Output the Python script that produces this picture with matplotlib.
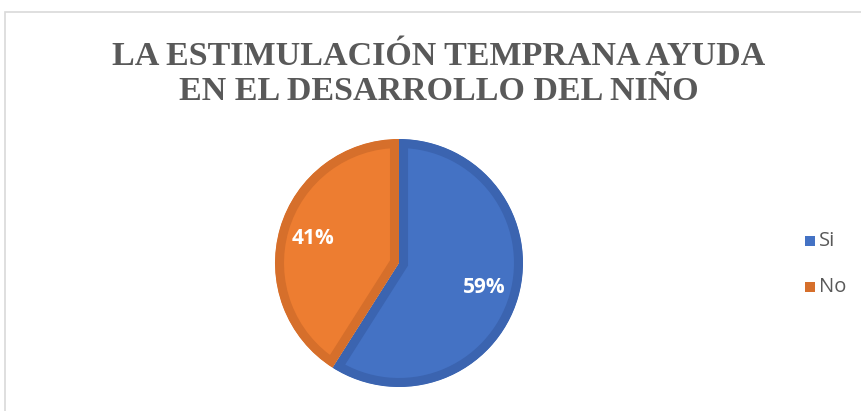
import matplotlib
matplotlib.use("Agg")
import matplotlib.pyplot as plt
from matplotlib.patches import Rectangle

title = "LA ESTIMULACIÓN TEMPRANA AYUDA\nEN EL DESARROLLO DEL NIÑO"
categories = ["Si", "No"]
values = [59, 41]
colors = ["#4472C4", "#ED7D31"]
edge_colors = ["#3B64B0", "#D66F2B"]

W, H = 862, 411
fig = plt.figure(figsize=(W / 100, H / 100), dpi=100)
fig.patch.set_facecolor("white")

# chart frame border
fig.patches.append(Rectangle((5 / W, -0.1), 1.2, (H - 12) / H + 0.1,
                             transform=fig.transFigure, fill=False,
                             edgecolor="#D9D9D9", linewidth=1.2))

cx, cy, r = 399, 263, 124
lim = 1.02
size = r * lim
ax = fig.add_axes([(cx - size) / W, (H - cy - size) / H, 2 * size / W, 2 * size / H])

wedges, texts, autotexts = ax.pie(
    values, colors=colors, startangle=90, counterclock=False,
    autopct=lambda p: f"{p:.0f}%", pctdistance=0.72,
    wedgeprops=dict(linewidth=13, joinstyle="miter"),
    textprops=dict(color="white", fontsize=15, fontweight="bold",
                   family="Open Sans"))
for w, ec in zip(wedges, edge_colors):
    w.set_edgecolor(ec)
    w.set_clip_on(True)
    w.set_clip_path(w)
ax.set_xlim(-lim, lim)
ax.set_ylim(-lim, lim)
ax.set_aspect("equal")
ax.axis("off")

fig.text(439 / W, 1 - 74 / H, title, ha="center", va="center",
         fontsize=24.5, fontweight="bold", family="Liberation Serif",
         color="#595959", linespacing=1.2)

# legend
for i, (cat, col) in enumerate(zip(categories, colors)):
    y = 241 + i * 46
    fig.patches.append(Rectangle((805 / W, 1 - (y + 5) / H), 10 / W, 10 / H,
                                 transform=fig.transFigure, facecolor=edge_colors[i] if i == 1 else col,
                                 edgecolor="none"))
    fig.text(819 / W, 1 - y / H, cat, ha="left", va="center",
             fontsize=14.5, family="Open Sans", color="#595959")

fig.savefig("out.png", dpi=100, facecolor="white")
